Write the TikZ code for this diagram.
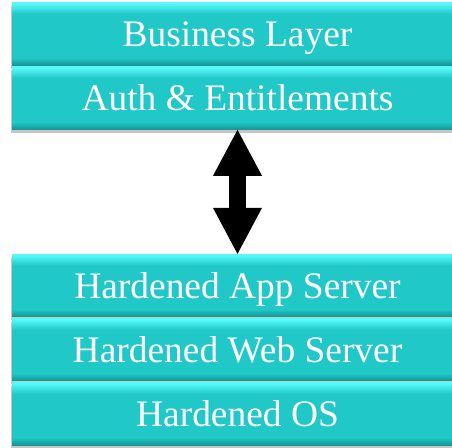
\documentclass[tikz,border=0pt]{standalone}
\usepackage{fontspec}
\setmainfont{Liberation Serif}
\usepackage{xcolor}
\usepackage{tikz}
\usetikzlibrary{arrows.meta,shadows,positioning}

\definecolor{tealmain}{RGB}{32,200,200}
\definecolor{tealdark}{RGB}{22,148,148}
\definecolor{teallight}{RGB}{86,248,248}
\pgfdeclareverticalshading{layershade}{100bp}{color(0bp)=(tealdark); color(25bp)=(tealdark); color(31bp)=(tealmain); color(66bp)=(tealmain); color(74bp)=(teallight); color(75bp)=(teallight); color(100bp)=(teallight)}

\begin{document}
\begin{tikzpicture}[
		layer/.style={shading=layershade, minimum width=9.02cm, minimum height=1.25cm, inner sep=0pt,
			text height=0.5cm, text depth=0pt,
			text=white, font=\fontsize{21.3}{25}\selectfont,
			drop shadow={shadow xshift=-0.4pt, shadow yshift=-2pt, opacity=0.45}},
		node distance=0.02cm]
		\useasboundingbox (0,0) rectangle (9.04,8.94);
		\clip (0,0) rectangle (9.04,8.94);

		\node[layer] (biz) at (4.75,8.26) {Business Layer};
		\node[layer, below=of biz] (auth) {Auth \& Entitlements};

		\node[layer] (app) at (4.75,3.23) {Hardened App Server};
		\node[layer, below=of app] (web) {Hardened Web Server};
		\node[layer, below=of web] (os) {Hardened OS};

		\draw[line width=0.34cm, {Triangle[width=0.98cm, length=0.92cm, line width=0pt]}-{Triangle[width=0.98cm, length=0.92cm, line width=0pt]}]
			(auth.south) -- (app.north);
	\end{tikzpicture}
\end{document}
